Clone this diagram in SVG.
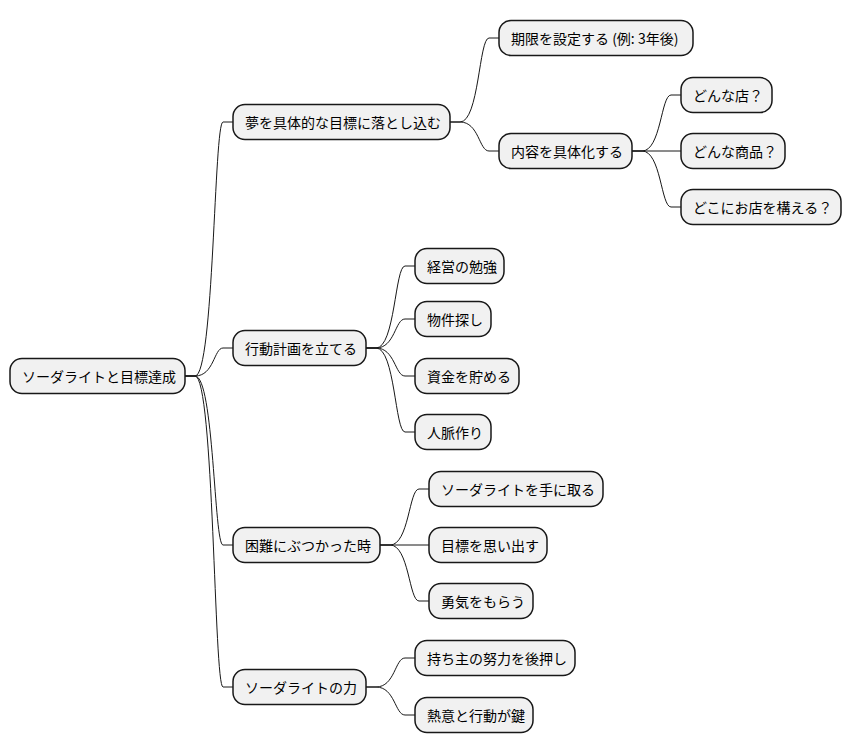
<svg xmlns="http://www.w3.org/2000/svg" width="852" height="752" viewBox="0 0 852 752">
<style>
.n rect{fill:#f1f1f1;stroke:#181818;stroke-width:1.5}
.n text{font-family:"Noto Sans CJK JP","Liberation Sans",sans-serif;font-size:14px;fill:#000;dominant-baseline:central}
#c path{fill:none;stroke:#181818;stroke-width:1}
</style>
<rect width="852" height="752" fill="#fff"/>
<g id="c">
<path d="M185,376 L195,376 C214,376 214,122 223,122 L233,122"/>
<path d="M185,376 L195,376 C214,376 214,348 223,348 L233,348"/>
<path d="M185,376 L195,376 C214,376 214,545 223,545 L233,545"/>
<path d="M185,376 L195,376 C214,376 214,687 223,687 L233,687"/>
<path d="M450,122 L460,122 C479,122 479,38 489,38 L499,38"/>
<path d="M450,122 L460,122 C479,122 479,151 489,151 L499,151"/>
<path d="M632,151 L642,151 C661,151 661,95 671,95 L681,95"/>
<path d="M632,151 L681,151"/>
<path d="M632,151 L642,151 C661,151 661,207 671,207 L681,207"/>
<path d="M366,348 L376,348 C395,348 395,266 405,266 L415,266"/>
<path d="M366,348 L376,348 C395,348 395,319 405,319 L415,319"/>
<path d="M366,348 L376,348 C395,348 395,376 405,376 L415,376"/>
<path d="M366,348 L376,348 C395,348 395,432 405,432 L415,432"/>
<path d="M380,545 L390,545 C409,545 409,489 419,489 L429,489"/>
<path d="M380,545 L429,545"/>
<path d="M380,545 L390,545 C409,545 409,601 419,601 L429,601"/>
<path d="M366,687 L376,687 C395,687 395,658 405,658 L415,658"/>
<path d="M366,687 L376,687 C395,687 395,715 405,715 L415,715"/>
</g>
<g id="root" class="n"><rect x="10" y="358.5" width="175" height="35" rx="12"/><text x="22" y="376">ソーダライトと目標達成</text></g>
<g id="a" class="n"><rect x="233" y="104.5" width="217" height="35" rx="12"/><text x="245" y="122">夢を具体的な目標に落とし込む</text></g>
<g id="b" class="n"><rect x="233" y="330.5" width="133" height="35" rx="12"/><text x="245" y="348">行動計画を立てる</text></g>
<g id="c2" class="n"><rect x="233" y="527.5" width="147" height="35" rx="12"/><text x="245" y="545">困難にぶつかった時</text></g>
<g id="d" class="n"><rect x="233" y="669.5" width="133" height="35" rx="12"/><text x="245" y="687">ソーダライトの力</text></g>
<g id="a1" class="n"><rect x="499" y="20.5" width="194" height="35" rx="12"/><text x="511" y="38">期限を設定する (例: 3年後)</text></g>
<g id="a2" class="n"><rect x="499" y="133.5" width="133" height="35" rx="12"/><text x="511" y="151">内容を具体化する</text></g>
<g id="a21" class="n"><rect x="681" y="77.5" width="91" height="35" rx="12"/><text x="693" y="95">どんな店？</text></g>
<g id="a22" class="n"><rect x="681" y="133.5" width="104" height="35" rx="12"/><text x="693" y="151">どんな商品？</text></g>
<g id="a23" class="n"><rect x="681" y="189.5" width="160" height="35" rx="12"/><text x="693" y="207">どこにお店を構える？</text></g>
<g id="b1" class="n"><rect x="415" y="248.5" width="89" height="35" rx="12"/><text x="427" y="266">経営の勉強</text></g>
<g id="b2" class="n"><rect x="415" y="301.5" width="76" height="35" rx="12"/><text x="427" y="319">物件探し</text></g>
<g id="b3" class="n"><rect x="415" y="358.5" width="104" height="35" rx="12"/><text x="427" y="376">資金を貯める</text></g>
<g id="b4" class="n"><rect x="415" y="414.5" width="76" height="35" rx="12"/><text x="427" y="432">人脈作り</text></g>
<g id="c21" class="n"><rect x="429" y="471.5" width="174" height="35" rx="12"/><text x="441" y="489">ソーダライトを手に取る</text></g>
<g id="c22" class="n"><rect x="429" y="527.5" width="118" height="35" rx="12"/><text x="441" y="545">目標を思い出す</text></g>
<g id="c23" class="n"><rect x="429" y="583.5" width="104" height="35" rx="12"/><text x="441" y="601">勇気をもらう</text></g>
<g id="d1" class="n"><rect x="415" y="640.5" width="160" height="35" rx="12"/><text x="427" y="658">持ち主の努力を後押し</text></g>
<g id="d2" class="n"><rect x="415" y="697.5" width="118" height="35" rx="12"/><text x="427" y="715">熱意と行動が鍵</text></g>
</svg>
